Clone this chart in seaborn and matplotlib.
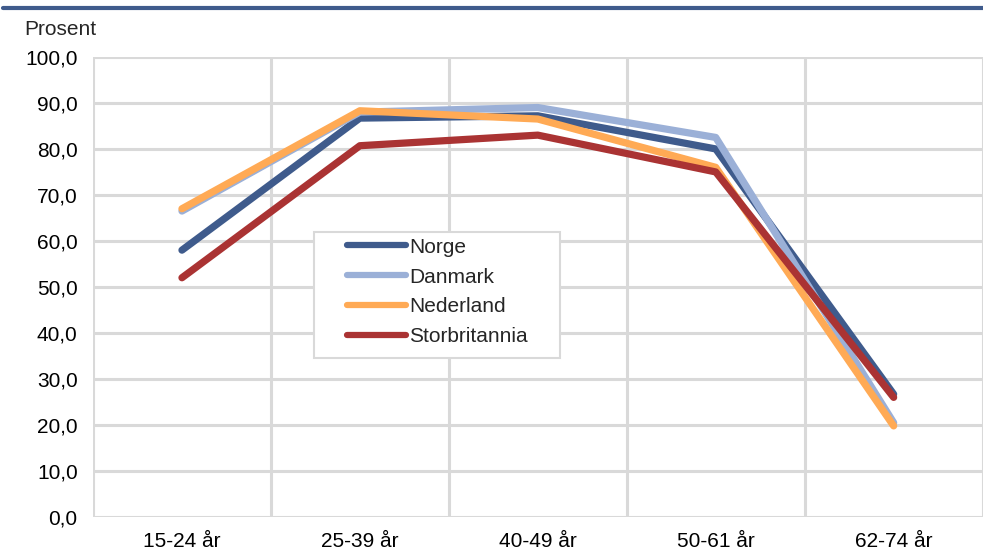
import pandas as pd
import matplotlib.pyplot as plt
import seaborn as sns
from matplotlib.lines import Line2D
from matplotlib.patches import Rectangle

sns.set_theme(style='white')
plt.rcParams['font.family'] = ['Liberation Sans', 'DejaVu Sans']

# Data
age_groups = ['15-24 år', '25-39 år', '40-49 år', '50-61 år', '62-74 år']
norge = [58.0, 86.7, 87.2, 80.0, 26.7]
danmark = [66.5, 88.0, 89.0, 82.5, 20.5]
nederland = [67.0, 88.3, 86.5, 76.0, 19.8]
storbritannia = [52.0, 80.7, 83.0, 75.0, 26.0]

countries = ['Norge', 'Danmark', 'Nederland', 'Storbritannia']
colors = ['#3F5B8C', '#9BB0D7', '#FFAA55', '#AA3333']

df = pd.DataFrame({
    'alder': age_groups * 4,
    'pos': list(range(len(age_groups))) * 4,
    'verdi': norge + danmark + nederland + storbritannia,
    'land': [c for c in countries for _ in age_groups],
})

fig = plt.figure(figsize=(9.83, 5.51), dpi=100)
ax = fig.add_axes([0.0946, 0.0617, 0.905, 0.835])

sns.lineplot(data=df, x='pos', y='verdi', hue='land', hue_order=countries,
             palette=colors, linewidth=5.2, ax=ax, solid_capstyle='round',
             sort=False)

# Grid
ax.set_xlim(-0.5, 4.5)
ax.set_ylim(0, 100)
ax.set_yticks(range(0, 101, 10))
ax.set_yticklabels([f'{v},0' for v in range(0, 101, 10)], fontsize=15)
ax.set_xticks(range(len(age_groups)))
ax.set_xticklabels(age_groups, fontsize=15)
ax.set_xticks([i + 0.5 for i in range(-1, 5)], minor=True)
ax.grid(axis='y', which='major', color='#D9D9D9', linewidth=2.2)
ax.grid(axis='x', which='minor', color='#D9D9D9', linewidth=2.2)
ax.grid(axis='x', which='major', visible=False)
ax.set_axisbelow(True)
for s in ax.spines.values():
    s.set_visible(False)
ax.tick_params(axis='y', which='both', length=0, pad=11, colors='black')
ax.tick_params(axis='x', which='both', length=0, pad=11, colors='black')
ax.set_xlabel('')
ax.set_ylabel('')

fig.text(0.025, 0.947, 'Prosent', fontsize=15, va='center')

# Decorative top rule
fig.add_artist(Line2D([0.003, 1.0], [0.985, 0.985], color='#3F5B8C', linewidth=3))

# Legend box drawn separately for wider side padding
ax.add_patch(Rectangle((0.248, 0.3457), 0.2764, 0.274, transform=ax.transAxes,
                       facecolor='white', edgecolor='#D9D9D9', linewidth=1.5,
                       zorder=4))
leg = ax.legend(loc='upper left', bbox_to_anchor=(0.2854, 0.607), fontsize=15,
                frameon=False, handlelength=2.85, handletextpad=0.15,
                borderpad=0, labelspacing=0.52, borderaxespad=0)
leg.set_zorder(5)
for h in leg.get_lines():
    h.set_linewidth(4.5)

fig.savefig('out.png', dpi=100)
